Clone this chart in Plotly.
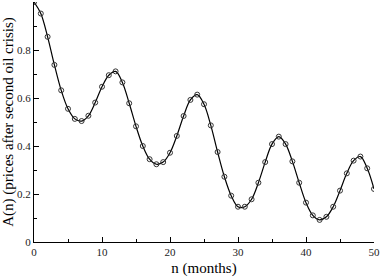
import plotly.graph_objects as go

n_months = list(range(0, 51))
prices = [1.0, 0.952, 0.855, 0.738, 0.632, 0.555, 0.513, 0.504, 0.526, 0.581, 0.647,
          0.695, 0.711, 0.665, 0.578, 0.482, 0.400, 0.345, 0.324, 0.333, 0.372,
          0.442, 0.525, 0.592, 0.614, 0.574, 0.486, 0.375, 0.272, 0.193, 0.147,
          0.147, 0.178, 0.247, 0.333, 0.408, 0.439, 0.408, 0.336, 0.247, 0.164,
          0.111, 0.092, 0.105, 0.147, 0.214, 0.286, 0.339, 0.356, 0.307, 0.221]

x_ticks = [0, 10, 20, 30, 40, 50]
y_ticks = [0, 0.2, 0.4, 0.6, 0.8, 1]

SERIF = "Liberation Serif"

fig = go.Figure()
fig.add_trace(go.Scatter(
    x=n_months, y=prices, mode="lines+markers",
    line=dict(color="black", width=1.2, shape="spline"),
    marker=dict(symbol="circle-open", size=5, color="#333333", line=dict(width=1)),
    showlegend=False,
))

axis_common = dict(
    showgrid=False, zeroline=False, showline=True, linecolor="black", linewidth=1,
    ticks="inside", ticklen=5, tickcolor="black", tickwidth=1,
    tickfont=dict(family=SERIF, size=11, color="#222"),
)

fig.update_layout(
    font=dict(family=SERIF, color="black"),
    xaxis=dict(range=[0, 50], tickvals=x_ticks,
               minor=dict(ticks="inside", dtick=5, ticklen=3, tickcolor="black"),
               title=dict(text="n (months)", font=dict(family=SERIF, size=15, color="black"), standoff=6),
               **axis_common),
    yaxis=dict(range=[0, 1], tickvals=y_ticks, ticktext=["0", "0.2", "0.4", "0.6", "0.8", "1"],
               minor=dict(ticks="inside", dtick=0.1, ticklen=3, tickcolor="black"),
               title=dict(text="A(n) (prices after second oil crisis)", font=dict(family=SERIF, size=15, color="black"), standoff=4),
               **axis_common),
    xaxis2=dict(overlaying="x", side="top", matches="x", range=[0, 50], tickvals=x_ticks,
                showticklabels=False,
                minor=dict(ticks="inside", dtick=5, ticklen=3, tickcolor="black"),
                **axis_common),
    yaxis2=dict(overlaying="y", side="right", matches="y", range=[0, 1], tickvals=y_ticks,
                showticklabels=False,
                minor=dict(ticks="inside", dtick=0.1, ticklen=3, tickcolor="black"),
                **axis_common),
    width=382, height=277,
    margin=dict(l=34, r=6, t=2, b=35),
    plot_bgcolor="white", paper_bgcolor="white",
)
fig.write_html("out.html", config={"displayModeBar": False},
               post_script="document.body.style.margin='0';document.body.style.overflow='hidden';")
